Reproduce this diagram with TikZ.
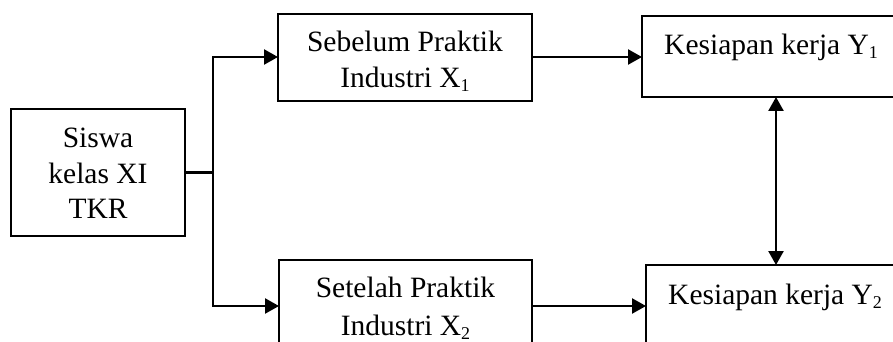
\documentclass[tikz,border=0pt]{standalone}
\usepackage{fontspec}
\setmainfont{Liberation Serif}
\usetikzlibrary{arrows.meta}
\newcommand{\subidx}[1]{\raisebox{-4pt}{\fontsize{18}{18}\selectfont #1}}
\begin{document}
\begin{tikzpicture}[x=1pt,y=-1pt,
  box/.style={draw, line width=2pt, rectangle, inner sep=0pt, outer sep=0pt, anchor=north west},
  lbl/.style={inner sep=0pt, font=\fontsize{29.5}{36}\selectfont},
  conn/.style={line width=2.4pt},
  tip/.style={Triangle[length=14pt,width=15pt]},
  arr/.style={conn, -{Triangle[length=14pt,width=15pt]}},
  ]
\useasboundingbox (0,0) rectangle (893,342);
\clip (0,0) rectangle (893,342);
% boxes
\node[box, minimum width=174pt, minimum height=127pt] (siswa) at (11,109) {};
\node[box, minimum width=254pt, minimum height=87pt] (x1) at (278,14) {};
\node[box, minimum width=253pt, minimum height=160pt] (x2) at (279,260) {};
\node[box, minimum width=320pt, minimum height=81pt] (y1) at (642,16) {};
\node[box, minimum width=320pt, minimum height=160pt] (y2) at (646,265) {};
% texts
\node[lbl, anchor=base] (s1) at (98,147) {Siswa};
\node[lbl, anchor=base] (s2) at (98,183) {kelas XI};
\node[lbl, anchor=base] (s3) at (98,218) {TKR};
\node[lbl, anchor=base] (a1) at (405,52) {Sebelum Praktik};
\node[lbl, anchor=base] (a2) at (405,88) {Industri X\subidx{1}};
\node[lbl, anchor=base] (b1) at (405.5,297) {Setelah Praktik};
\node[lbl, anchor=base] (b2) at (405.5,335) {Industri X\subidx{2}};
\node[lbl, anchor=base west] (c1) at (664,55) {Kesiapan kerja Y\subidx{1}};
\node[lbl, anchor=base west] (c2) at (668,304) {Kesiapan kerja Y\subidx{2}};
% connectors
\coordinate (br) at (213,172.5);
\coordinate (r1) at (213,57);
\coordinate (r2) at (213,306);
\coordinate (m) at (776,180);
\draw[conn] (siswa.east) -- (br);
\draw[conn, line cap=rect] (r1) -- (r2);
\draw[arr] (r1) -- (x1.west |- r1);
\draw[arr] (r2) -- (x2.west |- r2);
\draw[arr] (x1.east |- r1) -- (y1.west |- r1);
\draw[arr] (x2.east |- r2) -- (y2.west |- r2);
\draw[conn, {Triangle[length=14pt,width=15pt]}-{Triangle[length=14pt,width=15pt]}] (y1.south -| m) -- (y2.north -| m);
\end{tikzpicture}
\end{document}
